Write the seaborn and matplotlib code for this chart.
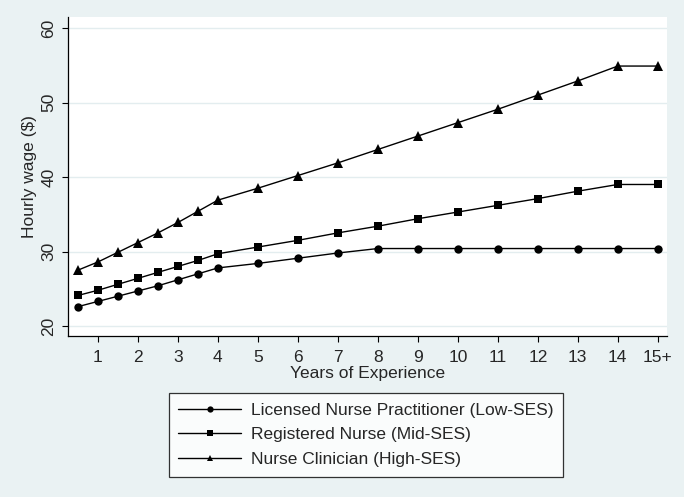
import numpy as np
import pandas as pd
import seaborn as sns
import matplotlib
matplotlib.use('Agg')
import matplotlib.pyplot as plt

# Data
years = [0.5, 1, 1.5, 2, 2.5, 3, 3.5, 4, 5, 6, 7, 8, 9, 10, 11, 12, 13, 14, 15]
low_ses = [22.6, 23.3, 24.0, 24.7, 25.4, 26.2, 27.0, 27.8, 28.4, 29.1, 29.8, 30.4,
           30.4, 30.4, 30.4, 30.4, 30.4, 30.4, 30.4]
mid_ses = [24.1, 24.8, 25.6, 26.4, 27.2, 28.0, 28.8, 29.7, 30.6, 31.5, 32.5, 33.4,
           34.4, 35.3, 36.2, 37.1, 38.1, 39.0, 39.0]
high_ses = [27.5, 28.6, 29.9, 31.2, 32.5, 33.9, 35.4, 36.9, 38.5, 40.2, 41.9, 43.7,
            45.5, 47.3, 49.1, 51.0, 52.9, 54.9, 54.9]
series_names = ['Licensed Nurse Practitioner (Low-SES)',
                'Registered Nurse (Mid-SES)',
                'Nurse Clinician (High-SES)']
xtick_vals = list(range(1, 16))
xtick_labels = [str(v) for v in range(1, 15)] + ['15+']
ytick_vals = [20, 30, 40, 50, 60]

df = pd.concat([
    pd.DataFrame({'years': years, 'wage': vals, 'group': name})
    for name, vals in zip(series_names, [low_ses, mid_ses, high_ses])
])

bg = '#EAF2F3'
fs = 12.5
sns.set_style('white')
plt.rcParams['font.family'] = ['Liberation Sans', 'DejaVu Sans']

fig = plt.figure(figsize=(6.84, 4.97), dpi=100, facecolor=bg)
ax = fig.add_axes([0.0994, 0.324, 0.8757, 0.642])
ax.set_facecolor('white')

markers = {series_names[0]: 'o', series_names[1]: 's', series_names[2]: '^'}
sizes = {series_names[0]: 6, series_names[1]: 5.5, series_names[2]: 7}
for name in series_names:
    sns.lineplot(data=df[df['group'] == name], x='years', y='wage', color='black',
                 marker=markers[name], markersize=sizes[name], markeredgewidth=0,
                 linewidth=1, ax=ax, legend=False)

ax.set_xlim(0.25, 15.23)
ax.set_ylim(18.66, 61.5)
ax.set_xticks(xtick_vals)
ax.set_xticklabels(xtick_labels, fontsize=fs)
ax.set_yticks(ytick_vals)
ax.set_yticklabels([str(v) for v in ytick_vals], fontsize=fs, rotation=90, va='center')
ax.tick_params(axis='both', direction='out', length=4.5, width=0.8, color='black',
               left=True, bottom=True)
ax.tick_params(axis='x', pad=5.5)
ax.tick_params(axis='y', pad=4)

ax.grid(axis='y', color='#E3EDEF', linewidth=1)
ax.set_axisbelow(True)
for side in ['top', 'right']:
    ax.spines[side].set_visible(False)
for side in ['left', 'bottom']:
    ax.spines[side].set_color('black')
    ax.spines[side].set_linewidth(0.9)

ax.set_xlabel('Years of Experience', fontsize=fs, labelpad=1)
ax.set_ylabel('Hourly wage ($)', fontsize=fs, labelpad=3)

handles = [plt.Line2D([], [], color='black', linewidth=1, marker=m, markersize=ms,
                      markeredgewidth=0)
           for m, ms in zip(['o', 's', '^'], [4.5, 4.5, 5])]
leg = fig.legend(handles, series_names, loc='upper center',
                 bbox_to_anchor=(366 / 684, (497 - 393) / 497), fontsize=fs,
                 frameon=True, fancybox=False, edgecolor='black', facecolor='white',
                 handlelength=3.6, handletextpad=0.6, labelspacing=0.55,
                 borderpad=0.55, borderaxespad=0)
leg.get_frame().set_linewidth(0.9)

fig.savefig('out.png', dpi=100, facecolor=bg)
